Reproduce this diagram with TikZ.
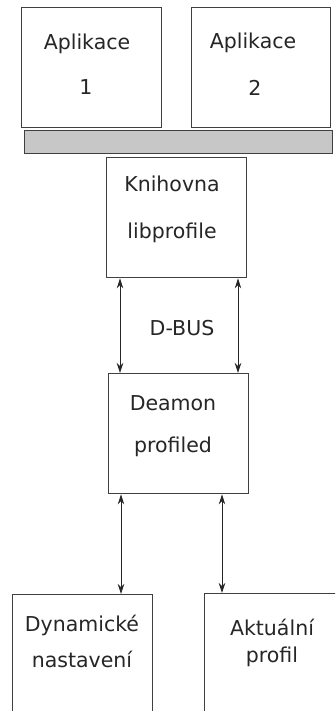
\documentclass[tikz,border=0pt]{standalone}
\usepackage{fontspec}
\setmainfont{DejaVu Sans}
\usetikzlibrary{arrows.meta}
\begin{document}
\begin{tikzpicture}[x=1pt,y=-1pt,
  box/.style={draw=black!75,line width=1.4pt,fill=white,anchor=north west,inner sep=0pt,minimum width=#1},
  box/.default=140pt,
  lbl/.style={font=\fontsize{20.5}{24}\selectfont,text=black!85,inner sep=0pt},
  arr/.style={line width=0.8pt,draw=black!85,{Stealth[length=10pt,width=6.5pt]}-{Stealth[length=10pt,width=6.5pt]}}]
\useasboundingbox (0,0) rectangle (335,711);
\clip (0,0) rectangle (335,711);
% boxes
\node[box,minimum height=120pt] (app1) at (21,7) {};
\node[box,minimum height=120pt,minimum width=139pt] (app2) at (191,7) {};
\node[box=308pt,minimum height=23pt,fill=black!22] (bar) at (24,130) {};
\node[box,minimum height=120pt] (knih) at (106,157) {};
\node[box,minimum height=120pt] (deam) at (108,373) {};
\node[box,minimum height=160pt] (dyn) at (12,594) {};
\node[box=145pt,minimum height=160pt] (akt) at (204,593) {};
% labels
\node[lbl] (t1a) at (87,44) {Aplikace};
\node[lbl] (t1b) at (86,87) {1};
\node[lbl] (t2a) at (253,43) {Aplikace};
\node[lbl] (t2b) at (255,88) {2};
\node[lbl] (tka) at (172,184) {Knihovna};
\node[lbl] (tkb) at (172,233) {libprofile};
\node[lbl] (tbus) at (182,328) {D-BUS};
\node[lbl] (tda) at (173,403) {Deamon};
\node[lbl] (tdb) at (173,447) {profiled};
\node[lbl] (tya) at (82,625) {Dynamické};
\node[lbl] (tyb) at (82,659) {nastavení};
\node[lbl] (taa) at (272,627) {Aktuální};
\node[lbl] (tab) at (272,657) {profil};
% connectors
\coordinate (x1) at (120,0);
\coordinate (x2) at (238,0);
\coordinate (x3) at (121,0);
\coordinate (x4) at (222,0);
\draw[arr] (knih.south -| x1) -- (deam.north -| x1);
\draw[arr] (knih.south -| x2) -- (deam.north -| x2);
\draw[arr] (deam.south -| x3) -- (dyn.north -| x3);
\draw[arr] (deam.south -| x4) -- (akt.north -| x4);
\end{tikzpicture}
\end{document}
